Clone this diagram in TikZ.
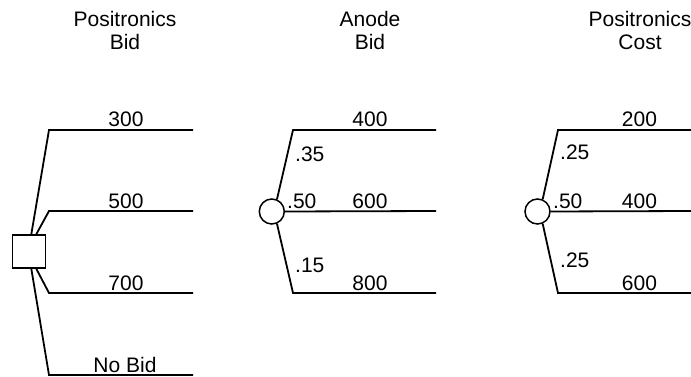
\documentclass[tikz,border=0pt]{standalone}
\usepackage{fontspec}
\setmainfont{Liberation Sans}
\usetikzlibrary{calc}
\begin{document}
\begin{tikzpicture}[x=1pt,y=-1pt,
  every node/.style={inner sep=0pt, font=\fontsize{21}{23}\selectfont},
  branch/.style={line width=1.8pt, line join=miter},
  decision/.style={draw, line width=1.5pt, rectangle, minimum width=33pt, minimum height=33pt},
  chance/.style={draw, line width=1.5pt, circle, minimum size=25pt},
  lab/.style={anchor=base},
  prob/.style={anchor=base west}]
\useasboundingbox (0,0) rectangle (691,377);

% column headings
\node[lab] (h1a) at (125,27) {Positronics};
\node[lab] (h1b) at (125,50) {Bid};
\node[lab] (h2a) at (370,27) {Anode};
\node[lab] (h2b) at (370,50) {Bid};
\node[lab] (h3a) at (640,27) {Positronics};
\node[lab] (h3b) at (640,50) {Cost};

% decision node: Positronics bid
\node[decision] (d) at (28.8,251.5) {};
\coordinate (a1) at (49,130);  \coordinate (b1) at (193,130);
\coordinate (a2) at (49,211);  \coordinate (b2) at (193,211);
\coordinate (a3) at (49,293);  \coordinate (b3) at (193,293);
\coordinate (a4) at (49,375);  \coordinate (b4) at (193,375);
\draw[branch] ($(d.north)+(2.5,0)$) -- (a1) -- (b1);
\draw[branch] ($(d.north)+(7.5,0)$) -- (a2) -- (b2);
\draw[branch] ($(d.south)+(7.5,0)$) -- (a3) -- (b3);
\draw[branch] ($(d.south)+(2.5,0)$) -- (a4) -- (b4);
\node[lab] (l300) at (126,127) {300};
\node[lab] (l500) at (126,208) {500};
\node[lab] (l700) at (126,290) {700};
\node[lab] (lnb)  at (125,372) {No Bid};

% chance node: Anode bid
\node[chance] (c1) at (271.8,211.5) {};
\coordinate (e1) at (293,130); \coordinate (f1) at (436,130);
\coordinate (f2) at (436,211);
\coordinate (e3) at (293,293); \coordinate (f3) at (436,293);
\draw[branch] (c1.67) -- (e1) -- (f1);
\draw[branch] (c1.east) -- (f2);
\draw[branch] (c1.-67) -- (e3) -- (f3);
\node[lab] (l400) at (370,127) {400};
\node[lab] (l600) at (370,208) {600};
\node[lab] (l800) at (370,290) {800};
\node[prob] (p35) at (295,162) {.35};
\node[prob] (p50) at (287,208) {.50};
\node[prob] (p15) at (295,272) {.15};

% chance node: Positronics cost
\node[chance] (c2) at (537.5,211.5) {};
\coordinate (g1) at (558,130); \coordinate (k1) at (691,130);
\coordinate (k2) at (691,211);
\coordinate (g3) at (558,293); \coordinate (k3) at (691,293);
\draw[branch] (c2.67) -- (g1) -- (k1);
\draw[branch] (c2.east) -- (k2);
\draw[branch] (c2.-67) -- (g3) -- (k3);
\node[lab] (l200) at (639.5,127) {200};
\node[lab] (m400) at (639.5,208) {400};
\node[lab] (m600) at (639.5,290) {600};
\node[prob] (q25a) at (560,160) {.25};
\node[prob] (q50)  at (553,208) {.50};
\node[prob] (q25b) at (560,267) {.25};
\end{tikzpicture}
\end{document}
